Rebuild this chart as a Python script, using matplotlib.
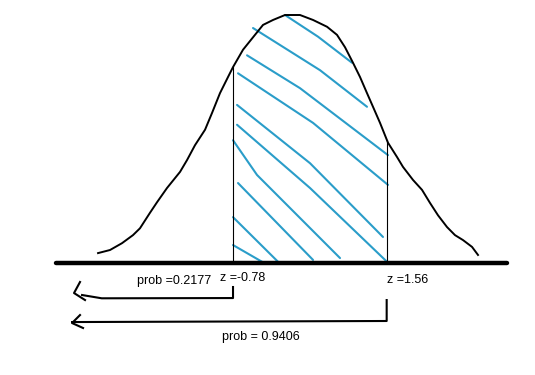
import matplotlib
matplotlib.use('Agg')
import matplotlib.pyplot as plt

plt.rcParams['font.family'] = ['Liberation Sans', 'DejaVu Sans']

# 손으로 그린 정규분포 곡선 (z, 높이)
curve_z = [-2.831, -2.649, -2.467, -2.300, -2.194, -2.042, -1.935, -1.783, -1.585,
           -1.479, -1.358, -1.205, -1.099, -0.978, -0.856, -0.780, -0.628, -0.446,
           -0.324, -0.172, 0.010, 0.238, 0.436, 0.649, 0.800, 0.922, 1.043, 1.150,
           1.256, 1.347, 1.454, 1.575, 1.712, 1.803, 1.955, 2.092, 2.213, 2.335,
           2.472, 2.593, 2.715, 2.852, 2.943]
curve_h = [0.016, 0.021, 0.032, 0.045, 0.056, 0.081, 0.098, 0.121, 0.147,
           0.166, 0.190, 0.215, 0.242, 0.274, 0.300, 0.316, 0.344, 0.368,
           0.384, 0.392, 0.400, 0.400, 0.392, 0.381, 0.368, 0.348, 0.323, 0.300,
           0.274, 0.252, 0.226, 0.194, 0.171, 0.155, 0.134, 0.118, 0.097, 0.077,
           0.058, 0.045, 0.037, 0.026, 0.013]

z_low = -0.78
z_high = 1.56
h_low = 0.316
h_high = 0.198

axis_z = [-3.469, 3.384]

# 빗금 (시작, 중간, 끝)
hatch_z = [[0.010, 0.512, 1.028],
           [-0.476, 0.542, 1.256],
           [-0.567, 0.238, 1.575],
           [-0.704, 0.436, 1.575],
           [-0.719, 0.390, 1.499],
           [-0.719, 0.390, 1.560],
           [-0.780, -0.415, 0.846],
           [-0.704, 0.436],
           [-0.780, -0.096],
           [-0.780, -0.339]]
hatch_h = [[0.400, 0.365, 0.323],
           [0.379, 0.311, 0.252],
           [0.335, 0.282, 0.174],
           [0.306, 0.226, 0.126],
           [0.255, 0.161, 0.042],
           [0.223, 0.121, 0.002],
           [0.198, 0.142, 0.008],
           [0.129, 0.005],
           [0.074, 0.002],
           [0.029, 0.002]]

# 화살표
arrow1_z = [-0.78, -0.78, -2.775, -3.074]
arrow1_h = [-0.0387, -0.0565, -0.0569, -0.0516]
head1_z = [-3.105, -3.196, -3.029]
head1_h = [-0.0306, -0.0484, -0.0597]

arrow2_z = [1.555, 1.555, -3.226]
arrow2_h = [-0.0597, -0.0935, -0.0952]
head2_z = [-3.105, -3.226, -3.059]
head2_h = [-0.0839, -0.0968, -0.1048]

labels = ['prob =0.2177', 'z =-0.78', 'z =1.56', 'prob = 0.9406']
label_z = [-2.237, -0.977, 1.555, -0.947]
label_h = [-0.0339, -0.0290, -0.0323, -0.1242]

fig = plt.figure(figsize=(5.35, 3.75), dpi=100)
ax = fig.add_axes([0, 0, 1, 1])
ax.set_xlim(-4.321, 3.809)
ax.set_ylim(-0.1806, 0.4242)
ax.axis('off')

hatch_color = '#2a9dc9'
for hz, hh in zip(hatch_z, hatch_h):
    ax.plot(hz, hh, color=hatch_color, lw=1.5, solid_capstyle='round')

ax.plot(curve_z, curve_h, color='black', lw=1.4)
ax.plot([z_low, z_low], [0, h_low], color='black', lw=0.8)
ax.plot([z_high, z_high], [0, h_high], color='black', lw=0.8)
ax.plot(axis_z, [0, 0], color='black', lw=3.2, solid_capstyle='round')

ax.plot(arrow1_z, arrow1_h, color='black', lw=1.5)
ax.plot(head1_z, head1_h, color='black', lw=1.5)
ax.plot(arrow2_z, arrow2_h, color='black', lw=1.5)
ax.plot(head2_z, head2_h, color='black', lw=1.5)

for t, x, y in zip(labels, label_z, label_h):
    ax.text(x, y, t, fontsize=9, ha='left', va='baseline')

fig.savefig('out.png', dpi=100)
